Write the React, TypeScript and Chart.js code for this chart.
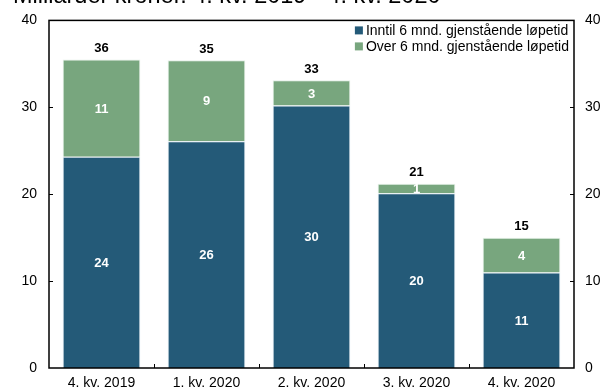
import React, { useEffect, useRef } from "react";
import { Chart, registerables } from "chart.js";

Chart.register(...registerables);

const categories = ["4. kv. 2019", "1. kv. 2020", "2. kv. 2020", "3. kv. 2020", "4. kv. 2020"];
const inntil = [24.3, 26.1, 30.2, 20.1, 11.0];
const over = [11.2, 9.3, 2.9, 1.1, 4.0];
const seriesNames = ["Inntil 6 mnd. gjenstående løpetid", "Over 6 mnd. gjenstående løpetid"];
const yTicks = [0, 10, 20, 30, 40];
const title = "Milliarder kroner. 4. kv. 2019 - 4. kv. 2020";

const BLUE = "#245a78";
const GREEN = "#78a67e";
const FONT = "'Liberation Sans', Arial, sans-serif";

const overlay = {
  id: "overlay",
  afterDatasetsDraw(chart: any) {
    const ctx = chart.ctx;
    const ca = chart.chartArea;
    const x = chart.scales.x;
    const y = chart.scales.y;
    ctx.save();
    // segment labels
    ctx.textAlign = "center";
    ctx.textBaseline = "middle";
    ctx.font = `bold 13px ${FONT}`;
    ctx.fillStyle = "#ffffff";
    chart.data.datasets.forEach((ds: any, di: number) => {
      const meta = chart.getDatasetMeta(di);
      meta.data.forEach((bar: any, i: number) => {
        const v = ds.data[i];
        const cy = (bar.y + bar.base) / 2;
        ctx.fillText(String(Math.round(v)), bar.x, cy + 1);
      });
    });
    // totals
    ctx.fillStyle = "#000000";
    categories.forEach((_, i) => {
      const tot = inntil[i] + over[i];
      const px = x.getPixelForValue(i);
      const py = y.getPixelForValue(tot);
      ctx.fillText(String(Math.round(tot)), px, py - 11);
    });
    // frame
    ctx.strokeStyle = "#000000";
    ctx.lineWidth = 1.5;
    ctx.strokeRect(ca.left, ca.top, ca.right - ca.left, ca.bottom - ca.top);
    // y ticks inward
    ctx.lineWidth = 1;
    yTicks.forEach((t) => {
      if (t === yTicks[0] || t === yTicks[yTicks.length - 1]) return;
      const py = Math.round(y.getPixelForValue(t)) + 0.5;
      ctx.beginPath();
      ctx.moveTo(ca.left, py);
      ctx.lineTo(ca.left + 4, py);
      ctx.moveTo(ca.right, py);
      ctx.lineTo(ca.right - 4, py);
      ctx.stroke();
    });
    // x ticks between categories
    for (let i = 0; i < categories.length - 1; i++) {
      const px = Math.round((x.getPixelForValue(i) + x.getPixelForValue(i + 1)) / 2) + 0.5;
      ctx.beginPath();
      ctx.moveTo(px, ca.bottom);
      ctx.lineTo(px, ca.bottom - 4);
      ctx.stroke();
    }
    // legend
    ctx.font = `14px ${FONT}`;
    ctx.textAlign = "left";
    ctx.textBaseline = "middle";
    const colors = [BLUE, GREEN];
    const maxW = Math.max(...seriesNames.map((n) => ctx.measureText(n).width));
    const textX = ca.right - 5 - maxW;
    seriesNames.forEach((name, i) => {
      const cy = ca.top + 10 + i * 16;
      ctx.fillStyle = colors[i];
      ctx.fillRect(textX - 11, cy - 4, 8, 8);
      ctx.fillStyle = "#000000";
      ctx.fillText(name, textX, cy + 1);
    });
    ctx.restore();
  },
};

export default function App() {
  const ref = useRef<HTMLCanvasElement | null>(null);
  useEffect(() => {
    document.body.style.margin = "0";
    if (!ref.current) return;
    Chart.defaults.font.family = FONT;
    const chart = new Chart(ref.current, {
      type: "bar",
      data: {
        labels: categories,
        datasets: [
          {
            label: seriesNames[0],
            data: inntil,
            backgroundColor: BLUE,
            borderColor: "rgba(220,232,240,0.9)",
            borderWidth: 1,
            barPercentage: 0.74,
            categoryPercentage: 1,
            yAxisID: "y",
          },
          {
            label: seriesNames[1],
            data: over,
            backgroundColor: GREEN,
            borderColor: "rgba(225,238,228,0.9)",
            borderWidth: 1,
            barPercentage: 0.74,
            categoryPercentage: 1,
            yAxisID: "y",
          },
        ],
      },
      options: {
        animation: false,
        responsive: false,
        maintainAspectRatio: false,
        layout: { padding: { top: 18, right: 0, left: 0, bottom: 0 } },
        plugins: {
          legend: { display: false },
          tooltip: { enabled: false },
          title: { display: false },
        },
        scales: {
          x: {
            stacked: true,
            grid: { display: false, drawTicks: false },
            border: { display: false },
            ticks: { color: "#000", font: { size: 14 }, padding: 7, maxRotation: 0 },
            afterFit: (s: any) => {
              s.height = 24;
            },
          },
          y: {
            stacked: true,
            position: "left",
            min: 0,
            max: 40,
            grid: { display: false, drawTicks: false },
            border: { display: false },
            ticks: { stepSize: 10, color: "#000", font: { size: 14 }, padding: 12 },
            afterFit: (s: any) => {
              s.width = 49;
            },
          },
          y2: {
            position: "right",
            min: 0,
            max: 40,
            grid: { display: false, drawTicks: false },
            border: { display: false },
            ticks: { stepSize: 10, color: "#000", font: { size: 14 }, padding: 11 },
            afterFit: (s: any) => {
              s.width = 28;
            },
          },
        },
      },
      plugins: [overlay],
    });
    return () => chart.destroy();
  }, []);
  return (
    <div style={{ position: "absolute", left: 0, top: 0, width: 602, height: 392, overflow: "hidden" }}>
      <div
        style={{
          position: "absolute",
          left: 13,
          top: -16,
          fontFamily: FONT,
          fontSize: 23.5,
          lineHeight: 1,
          whiteSpace: "nowrap",
          color: "#000",
        }}
      >
        {title}
      </div>
      <canvas ref={ref} width={602} height={392} style={{ display: "block", width: 602, height: 392 }} />
    </div>
  );
}
